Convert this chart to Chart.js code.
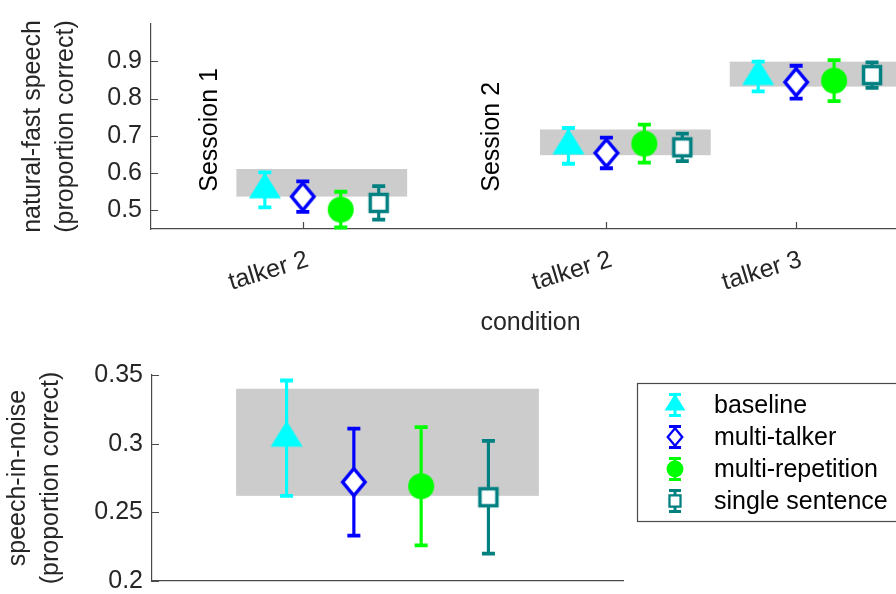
<!DOCTYPE html>
<html>
<head>
<meta charset="utf-8">
<script src="https://cdn.jsdelivr.net/npm/chart.js@4.4.1/dist/chart.umd.min.js"></script>
<style>
  html, body { margin: 0; padding: 0; background: #fff; width: 896px; height: 594px; overflow: hidden; }
  .panel { position: absolute; left: 0; }
  #topPanel { top: 0; width: 928px; height: 345px; }
  #bottomPanel { top: 345px; width: 896px; height: 260px; }
</style>
</head>
<body>
<div class="panel" id="topPanel"><canvas id="topChart"></canvas></div>
<div class="panel" id="bottomPanel"><canvas id="bottomChart"></canvas></div>

<script>
/* ======================================================
   Data
====================================================== */

const seriesNames  = ['baseline', 'multi-talker', 'multi-repetition', 'single sentence'];

// top panel: natural-fast speech, one value per condition
const topCategories = ['talker 2', 'talker 2', 'talker 3'];
const topGroupX     = [1, 2.6, 3.6];
const topYTicks     = [0.5, 0.6, 0.7, 0.8, 0.9];

const topBaseline        = [0.555, 0.673, 0.859];
const topBaselineErr     = [0.047, 0.048, 0.040];
const topMultiTalker     = [0.537, 0.654, 0.844];
const topMultiTalkerErr  = [0.041, 0.041, 0.044];
const topMultiRep        = [0.502, 0.679, 0.848];
const topMultiRepErr     = [0.048, 0.051, 0.055];
const topSingle          = [0.520, 0.669, 0.863];
const topSingleErr       = [0.045, 0.037, 0.034];

const topBandLow  = [0.537, 0.648, 0.832];
const topBandHigh = [0.611, 0.717, 0.899];

const sessionLabels = ['Sessoion 1', 'Session 2'];
const sessionX      = [0.51, 2.0];
const sessionY      = 0.55;

// bottom panel: speech-in-noise
const bottomGroupX  = [1];
const bottomYTicks  = [0.2, 0.25, 0.3, 0.35];

const bottomBaseline       = [0.304];
const bottomBaselineErr    = [0.042];
const bottomMultiTalker    = [0.272];
const bottomMultiTalkerErr = [0.039];
const bottomMultiRep       = [0.269];
const bottomMultiRepErr    = [0.043];
const bottomSingle         = [0.261];
const bottomSingleErr      = [0.041];

const bottomBandLow  = [0.262];
const bottomBandHigh = [0.340];


/* ======================================================
   Styles
====================================================== */

const FONT      = "'Liberation Sans', Arial, Helvetica, sans-serif";
const TEXT      = '#262626';
const AXIS_LINE = '#4a4a4a';
const BAND      = '#cccccc';

const seriesColors = ['#00ffff', '#0000ff', '#00ff00', '#008080'];
const seriesShapes = ['triangle', 'diamond', 'circle', 'square'];
const seriesShift  = [-0.2, 0, 0.2, 0.4];   // x offset inside a group
const bandFrom = -0.35, bandTo = 0.55;        // grey band extent around a group


/* ======================================================
   Marker glyphs (MATLAB-like)
====================================================== */

function markerCanvas(shape, color, k) {
  const size = 2 * Math.ceil(22 * k);
  const c = document.createElement('canvas');
  c.width = size;
  c.height = size;
  const g = c.getContext('2d');
  g.translate(size / 2, size / 2);
  g.scale(k, k);
  g.lineWidth = 3.5;
  g.strokeStyle = color;
  g.fillStyle = color;
  g.beginPath();

  if (shape === 'triangle') {
    g.moveTo(0, -17.5); g.lineTo(16, 8.5); g.lineTo(-16, 8.5); g.closePath();
    g.fill();
  } else if (shape === 'diamond') {
    g.moveTo(0, -13.5); g.lineTo(11.2, 0); g.lineTo(0, 13.5); g.lineTo(-11.2, 0); g.closePath();
    g.fillStyle = '#fff'; g.fill(); g.stroke();
  } else if (shape === 'circle') {
    g.arc(0, 0, 13, 0, Math.PI * 2);
    g.fill();
  } else {
    g.rect(-8.5, -8.5, 17, 17);
    g.fillStyle = '#fff'; g.fill(); g.stroke();
  }
  return c;
}

function buildSets(groupX, means, errs) {
  return seriesNames.map((name, s) => ({
    label: name,
    data: groupX.map((gx, g) => ({ x: gx + seriesShift[s], y: means[s][g] })),
    err: errs[s],
    pointStyle: markerCanvas(seriesShapes[s], seriesColors[s], 1),
    pointRadius: 12,
    pointHoverRadius: 12
  }));
}


/* ======================================================
   Drawing helpers (bands, error bars, inward ticks)
====================================================== */

function drawBands(chart, groupX, low, high) {
  const { ctx, scales: { x, y } } = chart;
  ctx.save();
  ctx.fillStyle = BAND;
  groupX.forEach((gx, g) => {
    const x0 = x.getPixelForValue(gx + bandFrom);
    const x1 = x.getPixelForValue(gx + bandTo);
    const y0 = y.getPixelForValue(high[g]);
    const y1 = y.getPixelForValue(low[g]);
    ctx.fillRect(x0, y0, x1 - x0, y1 - y0);
  });
  ctx.restore();
}

function drawErrorBars(chart) {
  const { ctx, scales: { x, y } } = chart;
  ctx.save();
  chart.data.datasets.forEach((ds, s) => {
    ctx.strokeStyle = seriesColors[s];
    ds.data.forEach((p, i) => {
      const px = x.getPixelForValue(p.x);
      const yTop = y.getPixelForValue(p.y + ds.err[i]);
      const yBot = y.getPixelForValue(p.y - ds.err[i]);
      ctx.lineWidth = 3.2;
      ctx.beginPath();
      ctx.moveTo(px, yTop); ctx.lineTo(px, yBot);
      ctx.stroke();
      ctx.lineWidth = 3.8;
      ctx.beginPath();
      ctx.moveTo(px - 6.5, yTop); ctx.lineTo(px + 6.5, yTop);
      ctx.moveTo(px - 6.5, yBot); ctx.lineTo(px + 6.5, yBot);
      ctx.stroke();
    });
  });
  ctx.restore();
}

function drawInwardTicks(chart, withX) {
  const { ctx, chartArea: a, scales: { x, y } } = chart;
  ctx.save();
  ctx.strokeStyle = AXIS_LINE;
  ctx.lineWidth = 1.2;
  ctx.beginPath();
  y.ticks.forEach(t => {
    const py = Math.round(y.getPixelForValue(t.value)) + 0.5;
    ctx.moveTo(a.left, py); ctx.lineTo(a.left + 7, py);
  });
  if (withX) {
    x.ticks.forEach(t => {
      const px = Math.round(x.getPixelForValue(t.value)) + 0.5;
      ctx.moveTo(px, a.bottom); ctx.lineTo(px, a.bottom - 7);
    });
  }
  ctx.stroke();
  ctx.restore();
}

const topDecor = {
  id: 'topDecor',
  beforeDatasetsDraw(chart) {
    drawBands(chart, topGroupX, topBandLow, topBandHigh);
    drawInwardTicks(chart, true);
    drawErrorBars(chart);
  },
  afterDraw(chart) {
    const { ctx, scales: { x, y } } = chart;
    ctx.save();
    ctx.fillStyle = '#000';
    ctx.font = `25px ${FONT}`;
    ctx.textAlign = 'left';
    ctx.textBaseline = 'middle';
    sessionLabels.forEach((label, i) => {
      ctx.save();
      ctx.translate(x.getPixelForValue(sessionX[i]), y.getPixelForValue(sessionY));
      ctx.rotate(-Math.PI / 2);
      ctx.fillText(label, 0, 0);
      ctx.restore();
    });
    ctx.restore();
  }
};

const bottomDecor = {
  id: 'bottomDecor',
  beforeDatasetsDraw(chart) {
    drawBands(chart, bottomGroupX, bottomBandLow, bottomBandHigh);
    drawInwardTicks(chart, false);
    drawErrorBars(chart);
  },
  afterDraw(chart) {
    // legend box on the right of the lower panel
    const { ctx } = chart;
    const box = { left: 637.5, top: 38.5, right: 910, bottom: 176.5 };
    const markX = 675, textX = 714, rowY = 60, rowStep = 32;

    ctx.save();
    ctx.fillStyle = '#fff';
    ctx.fillRect(box.left, box.top, box.right - box.left, box.bottom - box.top);
    ctx.strokeStyle = AXIS_LINE;
    ctx.lineWidth = 1.2;
    ctx.strokeRect(box.left, box.top, box.right - box.left, box.bottom - box.top);

    seriesNames.forEach((name, s) => {
      const cy = rowY + s * rowStep;
      ctx.strokeStyle = seriesColors[s];
      ctx.lineWidth = 3;
      ctx.beginPath();
      ctx.moveTo(markX, cy - 10.5); ctx.lineTo(markX, cy + 10.5);
      ctx.moveTo(markX - 6, cy - 10.5); ctx.lineTo(markX + 6, cy - 10.5);
      ctx.moveTo(markX - 6, cy + 10.5); ctx.lineTo(markX + 6, cy + 10.5);
      ctx.stroke();
      const m = markerCanvas(seriesShapes[s], seriesColors[s], 0.65);
      ctx.drawImage(m, markX - m.width / 2, cy - m.height / 2);

      ctx.fillStyle = '#000';
      ctx.font = `25px ${FONT}`;
      ctx.textAlign = 'left';
      ctx.textBaseline = 'middle';
      ctx.fillText(name, textX, cy + 1);
    });
    ctx.restore();
  }
};


/* ======================================================
   Shared axis options
====================================================== */

const tickFont  = { family: FONT, size: 25 };
const titleFont = { family: FONT, size: 25, lineHeight: 1.3 };

function yAxis(min, max, tickValues, fmt, width, titleText, titlePad) {
  return {
    type: 'linear', min, max,
    afterBuildTicks: sc => { sc.ticks = tickValues.map(v => ({ value: v })); },
    afterFit: sc => { sc.width = width; },
    grid: { display: false, drawTicks: false },
    border: { display: true, color: AXIS_LINE, width: 1.2 },
    ticks: { color: TEXT, font: tickFont, padding: 9, callback: fmt },
    title: { display: true, text: titleText, color: TEXT, font: titleFont, padding: { top: titlePad, bottom: 0 } }
  };
}


/* ======================================================
   Top panel
====================================================== */

new Chart(document.getElementById('topChart'), {
  type: 'scatter',
  data: {
    datasets: buildSets(
      topGroupX,
      [topBaseline, topMultiTalker, topMultiRep, topSingle],
      [topBaselineErr, topMultiTalkerErr, topMultiRepErr, topSingleErr]
    )
  },
  options: {
    animation: false,
    responsive: true,
    maintainAspectRatio: false,
    devicePixelRatio: 1,
    layout: { padding: { left: 0, top: 22, right: 18, bottom: 0 } },
    plugins: { legend: { display: false }, tooltip: { enabled: false } },
    scales: {
      x: {
        type: 'linear', min: 0.2, max: 4.2,
        afterBuildTicks: sc => { sc.ticks = topGroupX.map(v => ({ value: v })); },
        afterFit: sc => { sc.height = 116; },
        grid: { display: false, drawTicks: false },
        border: { display: true, color: AXIS_LINE, width: 1.2 },
        ticks: {
          autoSkip: false, minRotation: 17, maxRotation: 17,
          padding: 16, labelOffset: 5,
          color: TEXT, font: tickFont,
          callback: (v, i) => topCategories[i]
        },
        title: {
          display: true, text: 'condition', color: TEXT,
          font: { family: FONT, size: 25 }, padding: { top: 0, bottom: 7 }
        }
      },
      y: yAxis(0.45, 1.0, topYTicks, v => v.toFixed(1), 151,
               ['natural-fast speech', '(proportion correct)'], 17)
    }
  },
  plugins: [topDecor]
});


/* ======================================================
   Bottom panel
====================================================== */

new Chart(document.getElementById('bottomChart'), {
  type: 'scatter',
  data: {
    datasets: buildSets(
      bottomGroupX,
      [bottomBaseline, bottomMultiTalker, bottomMultiRep, bottomSingle],
      [bottomBaselineErr, bottomMultiTalkerErr, bottomMultiRepErr, bottomSingleErr]
    )
  },
  options: {
    animation: false,
    responsive: true,
    maintainAspectRatio: false,
    devicePixelRatio: 1,
    layout: { padding: { left: 0, top: 30, right: 273, bottom: 0 } },
    plugins: { legend: { display: false }, tooltip: { enabled: false } },
    scales: {
      x: {
        type: 'linear', min: 0.4, max: 1.8,
        afterFit: sc => { sc.height = 23; },
        grid: { display: false, drawTicks: false },
        border: { display: true, color: AXIS_LINE, width: 1.2 },
        ticks: { display: false }
      },
      y: yAxis(0.2, 0.35, bottomYTicks, v => String(Number(v.toFixed(2))), 152,
               ['speech-in-noise', '(proportion correct)'], 2)
    }
  },
  plugins: [bottomDecor]
});
</script>
</body>
</html>
